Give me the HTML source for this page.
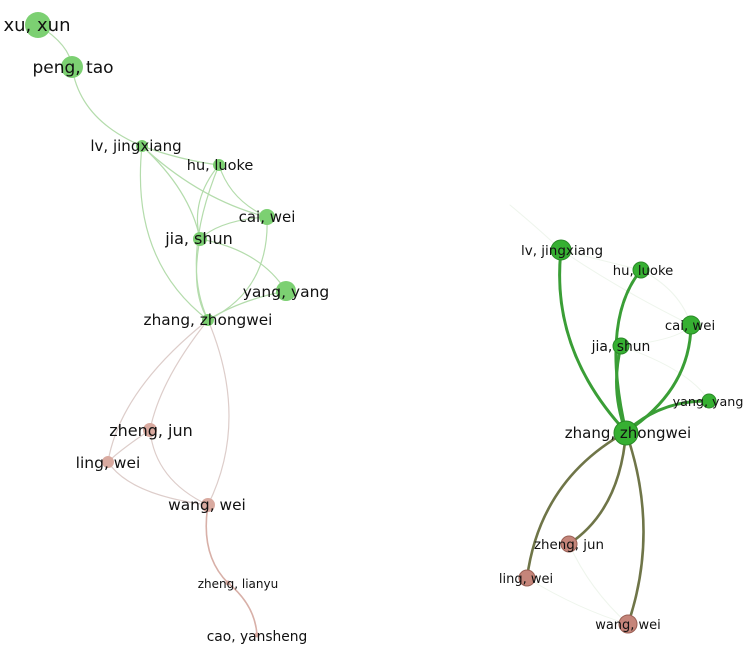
<!DOCTYPE html>
<html><head><meta charset="utf-8"><style>
html,body{margin:0;padding:0;background:#fff;}
svg{display:block;}
text{font-family:"DejaVu Sans","Liberation Sans",sans-serif;fill:#111;}
</style></head><body>
<svg width="756" height="653" viewBox="0 0 756 653">
<g fill="none" stroke-linecap="round">
<g stroke="#b4dcac" stroke-width="1.2">
<path d="M38 25 Q70 45 72 67"/>
<path d="M72 67 Q80 120 142 146"/>
<path d="M142 146 Q180 160 219 165"/>
<path d="M142 146 Q200 200 267 217"/>
<path d="M142 146 Q190 190 200 239"/>
<path d="M142 146 Q130 260 208 320"/>
<path d="M219 165 Q190 200 200 239"/>
<path d="M219 165 Q230 200 267 217"/>
<path d="M219 165 Q180 260 208 320"/>
<path d="M267 217 Q220 220 200 239"/>
<path d="M267 217 Q270 290 208 320"/>
<path d="M200 239 Q260 250 286 291"/>
<path d="M200 239 Q190 290 208 320"/>
<path d="M286 291 Q240 300 208 320"/>
</g>
<g stroke="#ddcdca" stroke-width="1.2">
<path d="M208 320 Q160 380 150 430"/>
<path d="M208 320 Q120 390 108 462"/>
<path d="M208 320 Q250 420 208 505"/>
<path d="M150 430 Q120 450 108 462"/>
<path d="M150 430 Q155 480 208 505"/>
<path d="M108 462 Q130 495 208 505"/>
</g>
<g stroke="#d8b0a8" stroke-width="1.6">
<path d="M208 505 Q200 555 228 583"/>
<path d="M228 583 Q255 605 257 635"/>
</g>
<g stroke="#eef5ec" stroke-width="1">
<path d="M510 205 Q540 230 561 250"/>
<path d="M561 250 Q620 290 691 325"/>
<path d="M561 250 Q600 260 641 270"/>
<path d="M641 270 Q680 290 691 325"/>
<path d="M621 346 Q680 340 691 325"/>
<path d="M621 346 Q690 370 709 401"/>
<path d="M527 578 Q580 610 628 624"/>
<path d="M569 544 Q590 590 628 624"/>
</g>
<g stroke="#3a9e36" stroke-width="3">
<path d="M561 250 Q550 350 626 432"/>
<path d="M641 270 Q600 320 626 432"/>
<path d="M621 346 Q610 390 626 432"/>
<path d="M691 325 Q690 390 626 432"/>
<path d="M709 401 Q660 400 626 432"/>
</g>
<g stroke="#6f7548" stroke-width="2.6">
<path d="M626 432 Q540 480 527 578"/>
<path d="M626 432 Q620 510 569 544"/>
<path d="M626 432 Q660 530 628 624"/>
</g>
</g>
<g fill="#7cd072">
<circle cx="38" cy="25" r="13"/>
<circle cx="72" cy="67" r="11"/>
<circle cx="142" cy="146" r="6"/>
<circle cx="219" cy="165" r="6"/>
<circle cx="267" cy="217" r="8"/>
<circle cx="200" cy="239" r="7"/>
<circle cx="286" cy="291" r="10"/>
<circle cx="208" cy="320" r="6"/>
</g>
<g fill="#d9aaa0">
<circle cx="150" cy="430" r="7"/>
<circle cx="108" cy="462" r="6"/>
<circle cx="208" cy="505" r="7"/>
<circle cx="228" cy="583" r="2.5"/>
<circle cx="257" cy="635" r="2.5"/>
</g>
<g fill="#36b032" stroke="#2a8a28" stroke-width="1">
<circle cx="561" cy="250" r="10"/>
<circle cx="641" cy="270" r="8"/>
<circle cx="691" cy="325" r="9"/>
<circle cx="621" cy="346" r="8"/>
<circle cx="709" cy="401" r="7"/>
<circle cx="626" cy="433" r="12"/>
</g>
<g fill="#c5857a" stroke="#9a6055" stroke-width="1">
<circle cx="569" cy="544" r="8"/>
<circle cx="527" cy="578" r="8"/>
<circle cx="628" cy="624" r="9"/>
</g>
<g text-anchor="middle">
<text x="37" y="31" font-size="18">xu, xun</text>
<text x="73" y="73" font-size="17">peng, tao</text>
<text x="136" y="151" font-size="15">lv, jingxiang</text>
<text x="220" y="170" font-size="14.5">hu, luoke</text>
<text x="267" y="222" font-size="15">cai, wei</text>
<text x="199" y="244" font-size="16">jia, shun</text>
<text x="286" y="297" font-size="15.5">yang, yang</text>
<text x="208" y="325" font-size="15.3">zhang, zhongwei</text>
<text x="151" y="436" font-size="16">zheng, jun</text>
<text x="108" y="468" font-size="15.5">ling, wei</text>
<text x="207" y="510" font-size="15.4">wang, wei</text>
<text x="238" y="588" font-size="12">zheng, lianyu</text>
<text x="257" y="641" font-size="13.8">cao, yansheng</text>
<text x="562" y="255" font-size="13.5">lv, jingxiang</text>
<text x="643" y="275" font-size="13.2">hu, luoke</text>
<text x="690" y="330" font-size="13.3">cai, wei</text>
<text x="621" y="351" font-size="13.9">jia, shun</text>
<text x="708" y="406" font-size="12.7">yang, yang</text>
<text x="628" y="438" font-size="15">zhang, zhongwei</text>
<text x="569" y="549" font-size="13.4">zheng, jun</text>
<text x="526" y="583" font-size="13">ling, wei</text>
<text x="628" y="629" font-size="13">wang, wei</text>
</g>
</svg>
</body></html>
